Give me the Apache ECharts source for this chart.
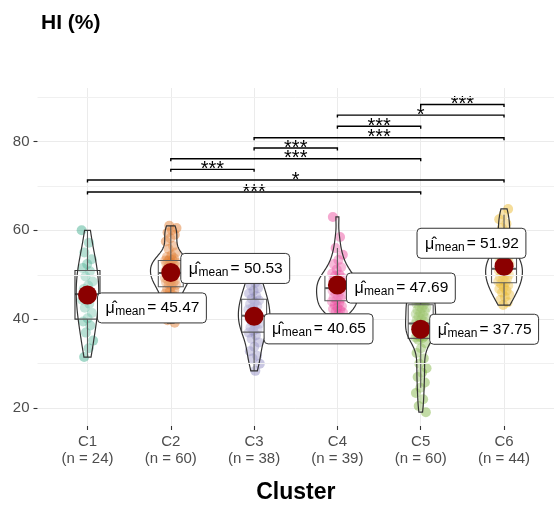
<!DOCTYPE html>
<html><head><meta charset="utf-8">
<script src="https://cdn.jsdelivr.net/npm/echarts@6/dist/echarts.min.js"></script>
<style>html,body{margin:0;padding:0;background:#fff}#c{width:554px;height:509px}</style>
</head><body><div id="c"></div>
<script>
// ---------- data ----------
const categories = ['C1', 'C2', 'C3', 'C4', 'C5', 'C6'];
const c1 = [60.0, 57.2, 55.0, 53.5, 52.4, 51.5, 50.8, 49.6, 48.5, 47.6, 46.8, 46.0, 45.3, 44.4, 43.5, 42.6, 41.4, 40.2, 39.5, 38.6, 37.0, 35.2, 33.5, 31.5];
const c2 = [61.0, 60.5, 60.0, 59.5, 59.0, 58.2, 57.5, 56.5, 55.8, 55.0, 54.4, 54.0, 53.7, 53.5, 53.2,
  53.3, 53.1, 52.9, 52.7, 52.5, 52.3, 52.1, 51.9, 51.7, 51.5, 51.3, 51.1, 50.9, 50.7, 50.5, 50.3, 50.1, 49.9, 49.7, 49.5, 49.3, 49.1, 48.9, 48.7, 48.5, 48.3, 48.1, 47.9, 47.7, 47.5,
  46.8, 46.5, 46.3, 45.8, 45.5, 45.2, 44.6, 44.3, 44.0, 43.2, 42.4, 41.5, 40.5, 39.8, 39.2];
const c3 = [51.5, 50.0, 49.0, 48.2, 47.6, 47.0, 46.4, 45.8, 45.2, 44.6, 44.2, 43.8, 43.4, 43.0, 42.6, 42.2, 41.8, 41.4, 41.0, 40.6, 40.2, 39.8, 39.4, 39.0, 38.6, 38.2, 37.8, 37.4, 37.0, 36.4, 35.6, 34.8, 33.8, 32.8, 31.8, 31.2, 30.0, 28.4];
const c4 = [63.0, 58.5, 56.0, 54.5, 53.3, 52.4, 51.7, 51.2,
  50.3, 50.0, 49.7, 49.4, 49.1, 48.8, 48.5, 48.2, 47.9, 47.6, 47.3, 47.0, 46.7, 46.4, 46.1, 45.8, 45.5, 45.2, 44.9, 44.6, 44.3, 44.0,
  43.6, 43.2, 42.9, 42.6, 42.3, 42.0, 41.8, 41.5, 41.2];
const c5 = [47.6, 47.2, 46.9, 46.6, 46.3, 46.0, 45.7, 45.4, 45.1, 44.8, 44.5, 44.2, 43.9, 43.7, 43.5,
  43.2, 42.9, 42.6, 42.4, 42.1, 41.8, 41.5, 41.2, 40.9, 40.6, 40.3, 40.0, 39.8, 39.5, 39.2, 38.9, 38.6, 38.3, 38.1, 37.8, 37.5, 37.3, 37.0, 36.8, 36.6, 36.4, 36.2, 36.0, 35.9, 35.8,
  35.4, 34.6, 33.5, 32.4, 31.2, 30.0, 29.0, 28.0, 27.0, 25.8, 24.6, 23.4, 22.0, 20.5, 19.1];
const c6 = [64.8, 63.5, 62.5, 61.5, 60.5, 59.5, 58.5, 57.5, 56.5, 55.8, 55.0,
  54.5, 54.2, 53.9, 53.6, 53.3, 53.0, 52.7, 52.4, 52.1, 51.8, 51.5, 51.2, 50.9, 50.6, 50.3, 50.0, 49.7, 49.4, 49.1, 48.8, 48.5, 48.3,
  48.0, 47.6, 47.2, 46.8, 46.4, 46.0, 45.5, 45.0, 44.4, 43.8, 43.2];
const groups = [c1, c2, c3, c4, c5, c6];
const meanValues = [45.47, 50.53, 40.65, 47.69, 37.75, 51.92];
const yTicks = [20, 40, 60, 80];
const yMinorTicks = [30, 50, 70, 90];
const comparisons = [[5, 6], [4, 6], [4, 5], [3, 6], [3, 4], [2, 5], [2, 3], [1, 6], [1, 5]];
const compLabels = ['***', '*', '***', '***', '***', '***', '***', '*', '***'];
const compY = [88.3, 85.9, 83.4, 80.8, 78.5, 76.1, 73.7, 71.3, 68.6];

// ---------- styling / layout ----------
const palette = ['#1B9E77', '#D95F02', '#7570B3', '#E7298A', '#66A61E', '#E6AB02'];
const FONT = '"Liberation Sans", Arial, sans-serif';
const labelOffsets = [[10, -2], [10, -19], [10, -2.5], [9, -12], [9, -15], [-87, -38]]; // px from mean dot to label top-left
const LABEL_H = 30;

// ---------- statistics ----------
function quantile(s, p) { const h = (s.length - 1) * p, lo = Math.floor(h); const hi = Math.min(lo + 1, s.length - 1); return s[lo] + (h - lo) * (s[hi] - s[lo]); }
function sd(a) { const m = a.reduce((x, y) => x + y, 0) / a.length; return Math.sqrt(a.reduce((x, y) => x + (y - m) * (y - m), 0) / (a.length - 1)); }
const stats = groups.map(vals => {
  const s = vals.slice().sort((a, b) => a - b);
  const q1 = quantile(s, 0.25), med = quantile(s, 0.5), q3 = quantile(s, 0.75), iqr = q3 - q1;
  const lo = s.find(v => v >= q1 - 1.5 * iqr), hi = s.slice().reverse().find(v => v <= q3 + 1.5 * iqr);
  const bw = 0.9 * Math.min(sd(s), iqr / 1.34) * Math.pow(s.length, -0.2);
  const N = 120, dens = [];
  for (let k = 0; k < N; k++) {
    const y = s[0] + (s[s.length - 1] - s[0]) * k / (N - 1);
    let d = 0; for (const v of s) { const z = (y - v) / bw; d += Math.exp(-0.5 * z * z); }
    dens.push([y, d / (s.length * bw * Math.sqrt(2 * Math.PI))]);
  }
  return { s, q1, med, q3, lo, hi, dens, maxD: Math.max(...dens.map(d => d[1])) };
});
const globalMaxD = Math.max(...stats.map(s => s.maxD));

const measureCtx = document.createElement('canvas').getContext('2d');
function textW(t, size) { measureCtx.font = size + 'px ' + FONT; return measureCtx.measureText(t).width; }

// ---------- series ----------
const series = [];
series.push({
  type: 'line', data: [[0.4, 16]], showSymbol: false, silent: true, z: 0,
  markLine: { silent: true, symbol: ['none', 'none'], label: { show: false }, animation: false,
    lineStyle: { color: '#F0F0F0', width: 1, type: 'solid' },
    data: yMinorTicks.map(v => ({ yAxis: v })) }
});
groups.forEach((vals, i) => {
  series.push({
    type: 'scatter', z: 2, symbolSize: 10, silent: true,
    itemStyle: { color: palette[i], opacity: 0.4 },
    data: vals.map((v, k) => [i + 1 + (((k * 0.6180339887 + i * 0.37) % 1) - 0.5) * 0.14, v])
  });
});
// boxes
series.push({
  type: 'custom', z: 3, silent: true, clip: false,
  data: categories.map((c, i) => [i + 1, stats[i].med]),
  renderItem(params, api) {
    const i = params.dataIndex, st = stats[i], x = i + 1;
    const a = api.coord([x - 0.15, st.q3]), b = api.coord([x + 0.15, st.q1]);
    const m1 = api.coord([x - 0.15, st.med]), m2 = api.coord([x + 0.15, st.med]);
    const wTop = api.coord([x, st.hi]), wQ3 = api.coord([x, st.q3]);
    const wBot = api.coord([x, st.lo]), wQ1 = api.coord([x, st.q1]);
    const ls = { stroke: '#333', lineWidth: 1.1, fill: null };
    return { type: 'group', children: [
      { type: 'line', shape: { x1: wTop[0], y1: wTop[1], x2: wQ3[0], y2: wQ3[1] }, style: ls },
      { type: 'line', shape: { x1: wBot[0], y1: wBot[1], x2: wQ1[0], y2: wQ1[1] }, style: ls },
      { type: 'rect', shape: { x: a[0], y: a[1], width: b[0] - a[0], height: b[1] - a[1] }, style: { fill: 'rgba(255,255,255,0.2)', stroke: '#333', lineWidth: 1.1 } },
      { type: 'line', shape: { x1: m1[0], y1: m1[1], x2: m2[0], y2: m2[1] }, style: { stroke: '#333', lineWidth: 2 } }
    ] };
  }
});
// violins
series.push({
  type: 'custom', z: 4, silent: true, clip: false,
  data: categories.map((c, i) => [i + 1, stats[i].med]),
  renderItem(params, api) {
    const i = params.dataIndex, st = stats[i], x = i + 1;
    const right = st.dens.map(([y, d]) => api.coord([x + 0.25 * d / globalMaxD, y]));
    const left = st.dens.slice().reverse().map(([y, d]) => api.coord([x - 0.25 * d / globalMaxD, y]));
    return { type: 'polygon', shape: { points: right.concat(left) }, style: { fill: 'rgba(255,255,255,0.2)', stroke: '#333', lineWidth: 1.2 } };
  }
});
// means
series.push({
  type: 'scatter', z: 5, symbolSize: 19, silent: true,
  itemStyle: { color: '#8B0000', opacity: 1 },
  data: meanValues.map((m, i) => [i + 1, m])
});
// mean labels
series.push({
  type: 'custom', z: 6, silent: true, clip: false,
  data: meanValues.map((m, i) => [i + 1, m]),
  renderItem(params, api) {
    const i = params.dataIndex;
    const p = api.coord([i + 1, meanValues[i]]);
    const L = p[0] + labelOffsets[i][0], T = p[1] + labelOffsets[i][1];
    const muT = 'μ\u0302', subT = 'mean', valT = '= ' + meanValues[i].toFixed(2);
    const wMu = textW('μ', 16), wSub = textW(subT, 12), wVal = textW(valT, 15.5);
    const W = 8 + wMu + 0.5 + wSub + 2 + wVal + 7;
    const cy = T + LABEL_H / 2;
    return { type: 'group', children: [
      { type: 'rect', shape: { x: L, y: T, width: W, height: LABEL_H, r: 4 }, style: { fill: '#fff', stroke: '#333', lineWidth: 1 } },
      { type: 'text', style: { text: muT, x: L + 8, y: cy + 1, font: '16px ' + FONT, fill: '#000', verticalAlign: 'middle', align: 'left' } },
      { type: 'text', style: { text: subT, x: L + 8 + wMu + 0.5, y: cy + 4, font: '12px ' + FONT, fill: '#000', verticalAlign: 'middle', align: 'left' } },
      { type: 'text', style: { text: valT, x: L + 8 + wMu + 0.5 + wSub + 2, y: cy, font: '15.5px ' + FONT, fill: '#000', verticalAlign: 'middle', align: 'left' } }
    ] };
  }
});
// significance brackets
series.push({
  type: 'custom', z: 3, silent: true, clip: false,
  data: comparisons.map((c, k) => [c[0], compY[k], c[1]]),
  renderItem(params, api) {
    const k = params.dataIndex, c = comparisons[k], y = compY[k];
    const a = api.coord([c[0], y]), b = api.coord([c[1], y]);
    const t = api.coord([c[0], y - 0.55]);
    return { type: 'group', children: [
      { type: 'polyline', shape: { points: [[a[0], t[1]], [a[0], a[1]], [b[0], b[1]], [b[0], t[1]]] }, style: { stroke: '#000', lineWidth: 1.4, fill: null } },
      { type: 'text', style: { text: compLabels[k], x: (a[0] + b[0]) / 2, y: a[1] + 10, font: '20px ' + FONT, fill: '#000', align: 'center', verticalAlign: 'bottom' } }
    ] };
  }
});

const chart = echarts.init(document.getElementById('c'), null, { renderer: 'canvas' });
chart.setOption({
  animation: false,
  backgroundColor: '#fff',
  title: { text: 'HI (%)', left: 36, top: 8, textStyle: { fontFamily: FONT, fontSize: 21, fontWeight: 'bold', color: '#000' } },
  grid: { left: 37.5, top: 88, width: 522, height: 343, containLabel: false },
  xAxis: {
    type: 'value', min: 0.4, max: 6.6,
    name: 'Cluster', nameLocation: 'middle', nameGap: 55,
    nameTextStyle: { fontFamily: FONT, fontSize: 23, fontWeight: 'bold', color: '#000' },
    axisLine: { show: false },
    axisTick: { show: true, length: 4, customValues: [1, 2, 3, 4, 5, 6], lineStyle: { color: '#333', width: 1.1 } },
    axisLabel: { customValues: [1, 2, 3, 4, 5, 6], margin: 8, fontFamily: FONT, fontSize: 15, lineHeight: 16.5, color: '#4D4D4D',
      formatter: v => { const i = Math.round(v) - 1; return categories[i] + '\n(n = ' + groups[i].length + ')'; } },
    splitLine: { show: true, lineStyle: { color: '#EBEBEB', width: 1 } }
  },
  yAxis: {
    type: 'value', min: 16, max: 92,
    axisLine: { show: false },
    axisTick: { show: true, length: 4, customValues: yTicks, lineStyle: { color: '#333', width: 1.1 } },
    axisLabel: { customValues: yTicks, margin: 8, fontFamily: FONT, fontSize: 15, color: '#4D4D4D' },
    splitLine: { show: true, lineStyle: { color: '#EBEBEB', width: 1 } }
  },
  series
});
</script></body></html>
